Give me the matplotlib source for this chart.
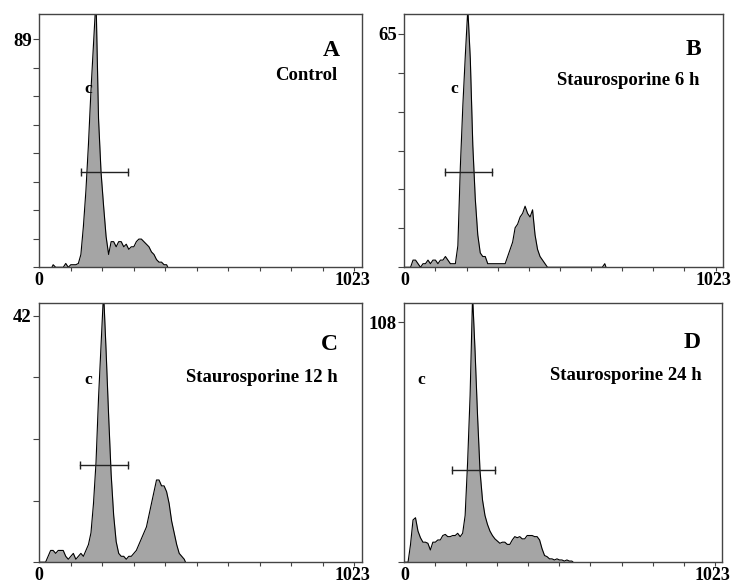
import numpy as np
import matplotlib.pyplot as plt
from matplotlib.transforms import ScaledTranslation

# DNA histograms, 1024 channels, counts per 8-channel bin
bin_width = 8

a_start = 40
a_counts = [1, 0, 0, 0, 0, 1.5, 0, 1, 1, 1, 1.5, 5, 16, 30, 48, 69, 87, 105,
            58, 37, 24, 12, 5, 10, 10, 8, 10, 10, 8, 9, 7, 8, 8, 10, 11, 11,
            10, 9, 8, 6, 5, 3, 2, 2, 1, 1]

b_start = 0
b_counts = [0, 0, 0, 2, 2, 1, 0, 1, 1, 2, 1, 2, 2, 1, 2, 2, 3, 2, 1, 1, 1,
            6, 28, 45, 59, 72, 58, 34, 19, 9, 4, 3, 3, 1, 1, 1, 1, 1, 1, 1,
            1, 3, 5, 7, 11, 12, 14, 15, 17, 15, 14, 16, 9, 5, 3, 2, 1, 0,
            0, 0, 0, 0, 0, 0, 0, 0, 0, 0, 0, 0, 0, 0, 0, 0, 0, 0, 0, 0, 0,
            0, 1]

c_start = 0
c_counts = [0, 0, 0, 1, 2, 2, 1.5, 2, 2, 2, 1, 0.5, 1, 1.5, 0.5, 1, 1.5, 1,
            2, 3, 5, 10, 17, 28, 37, 46, 36, 25, 15, 8, 3.5, 1.5, 1, 1, 0.5,
            1, 1, 1.5, 2, 3, 4, 5, 6, 8, 10, 12, 14, 14, 13, 13, 12, 10, 7,
            5, 3, 1.5, 1, 0.5]

d_start = 0
d_counts = [0, 0, 8, 19, 20, 14, 11, 9, 9, 8.5, 5.5, 9, 9, 10, 10, 12, 12.5,
            11.5, 11.5, 12, 12, 13, 11.5, 13, 21, 45, 75, 120, 95, 66, 41,
            28, 21, 17, 14, 12, 10.5, 9.5, 8.5, 9, 9, 8, 8, 10, 11.5, 11,
            11.5, 10.5, 10.5, 12, 12, 12, 11.5, 11.5, 10, 6, 3, 2.5, 1.5,
            1.5, 1, 1.5, 1, 1, 0.5, 1, 0.5, 0.5]

letters = ["A", "B", "C", "D"]
conditions = ["Control", "Staurosporine 6 h", "Staurosporine 12 h",
              "Staurosporine 24 h"]
y_top_labels = [89, 65, 42, 108]
y_tick_steps = [8, 6, 4, 1]
y_limits = [98.8, 70.5, 44.1, 116.5]

# M1 marker (start channel, end channel, height) and "c" label position
markers = [(131, 281, 37.3), (132, 283, 26.6), (129, 282, 16.5),
           (155, 293, 41.4)]
c_pos = [(155, 69.5), (161, 49.5), (156, 31.0), (53, 82.0)]

panels = [(a_start, a_counts), (b_start, b_counts), (c_start, c_counts),
          (d_start, d_counts)]

# layout (figure fractions)
axes_rects = [[0.0536, 0.5431, 0.4398, 0.4330],
              [0.5516, 0.5431, 0.4344, 0.4330],
              [0.0536, 0.0390, 0.4398, 0.4426],
              [0.5516, 0.0390, 0.4330, 0.4426]]
letter_xy = [(0.931, 0.834), (0.934, 0.838), (0.927, 0.821), (0.932, 0.828)]
cond_xy = [(0.924, 0.739), (0.926, 0.720), (0.927, 0.697), (0.937, 0.702)]

plt.rcParams["font.family"] = "Liberation Serif"
plt.rcParams["font.weight"] = "bold"

fig = plt.figure(figsize=(7.33, 5.85), dpi=100)
spine_col = "#444444"

for i, (start, counts) in enumerate(panels):
    ax = fig.add_axes(axes_rects[i])
    centers = start + bin_width * (np.arange(len(counts)) + 0.5)
    xs = np.concatenate([[centers[0] - bin_width / 2], centers,
                         [centers[-1] + bin_width / 2]])
    ys = np.concatenate([[0], counts, [0]])
    ax.fill_between(xs, ys, 0, color="#a5a5a5", lw=0)
    ax.plot(xs, ys, color="black", lw=0.8)

    x0, x1, ym = markers[i]
    ax.plot([x0, x1], [ym, ym], color="#222222", lw=1.0, marker="|",
            ms=6, mew=1.0)
    ax.text(c_pos[i][0], c_pos[i][1], "c", ha="center", va="center",
            fontsize=12.5, fontweight="bold")

    ax.text(*letter_xy[i], letters[i], transform=ax.transAxes, ha="right",
            va="baseline", fontsize=17, fontweight="bold")
    ax.text(*cond_xy[i], conditions[i], transform=ax.transAxes, ha="right",
            va="baseline", fontsize=13.5, fontweight="bold")

    ax.set_xlim(0, 1023)
    ax.set_ylim(0, y_limits[i])

    xt = list(range(0, 1001, 100)) + [1023]
    ax.set_xticks(xt, ["0"] + [""] * 10 + ["1023"])
    n = y_tick_steps[i]
    top = y_top_labels[i]
    ax.set_yticks([top * k / n for k in range(n + 1)],
                  [""] * n + [str(top)])
    ax.tick_params(axis="x", length=3, width=0.8, color=spine_col,
                   labelsize=13, pad=0.5)
    ax.tick_params(axis="y", length=4, width=0.8, color=spine_col,
                   labelsize=13.5, pad=1.5)
    ax.xaxis.get_major_ticks()[-1].tick1line.set_visible(False)
    ax.xaxis.get_major_ticks()[0].tick1line.set_visible(False)
    lab = ax.get_xticklabels()[-1]
    lab.set_transform(lab.get_transform()
                      + ScaledTranslation(-9 / 100, 0, fig.dpi_scale_trans))
    for s in ax.spines.values():
        s.set_color(spine_col)
        s.set_linewidth(1.0)

fig.savefig("out.png", dpi=100)
